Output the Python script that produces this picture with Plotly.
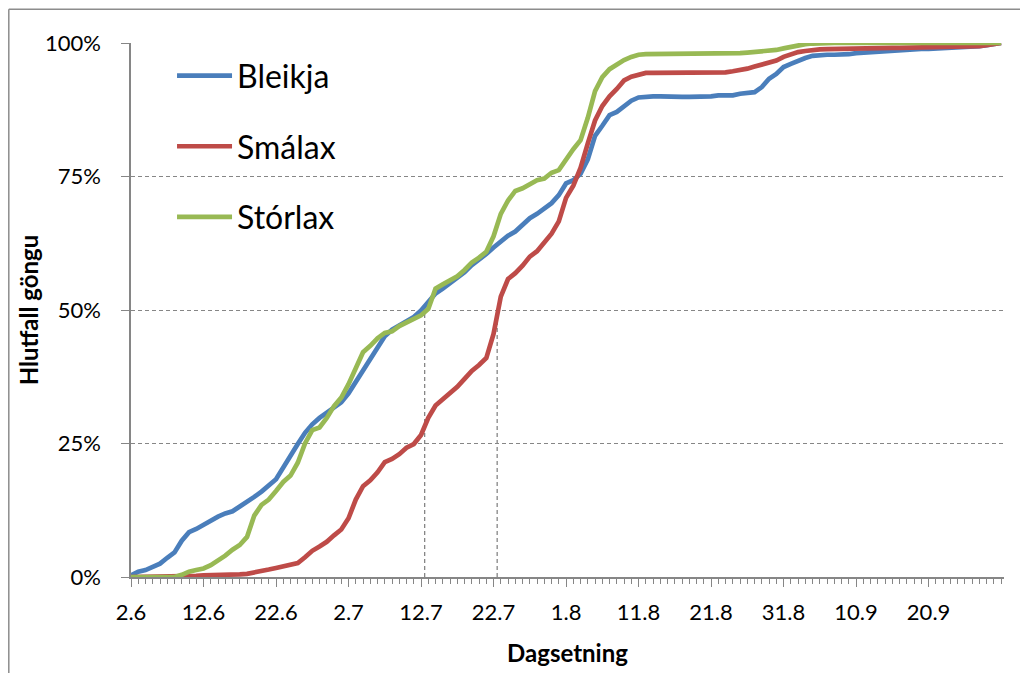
import plotly.graph_objects as go

# Day index from 2.6 (day 0) to 30.9 (day 120)
days = list(range(121))

tick_days = [0, 10, 20, 30, 40, 50, 60, 70, 80, 90, 100, 110]
tick_labels = ["2.6", "12.6", "22.6", "2.7", "12.7", "22.7", "1.8", "11.8",
               "21.8", "31.8", "10.9", "20.9"]

y_ticks = [0, 25, 50, 75, 100]
y_tick_labels = ["0%", "25%", "50%", "75%", "100%"]

bleikja = [0.3, 1.0, 1.3, 2.0, 2.5, 3.6, 4.6, 6.8, 8.4, 9.0,
           9.8, 10.6, 11.3, 11.9, 12.3, 13.2, 14.0, 15.0, 16.0, 17.1,
           18.3, 20.5, 22.9, 24.9, 27.0, 28.6, 29.8, 30.8, 31.7, 32.7,
           34.4, 36.6, 38.9, 40.9, 43.2, 45.1, 46.3, 47.1, 47.8, 48.7,
           49.9, 51.6, 53.1, 54.0, 55.0, 55.9, 57.1, 58.4, 59.4, 60.5,
           61.7, 62.8, 63.9, 64.7, 66.1, 67.2, 68.0, 69.0, 70.0, 71.5,
           73.7, 74.3, 75.5, 78.2, 82.6, 84.5, 86.5, 87.1, 88.2, 89.2,
           89.8, 90.0, 90.0, 90.0, 89.9, 89.9, 89.9, 89.9, 89.9, 89.9,
           90.0, 90.2, 90.2, 90.2, 90.5, 90.7, 90.8, 91.75, 93.3, 94.2,
           95.5, 96.1, 96.7, 97.2, 97.6, 97.8, 97.8, 97.8, 97.8, 97.9,
           98.1, 98.2, 98.3, 98.4, 98.6, 98.7, 98.8, 98.8, 98.85, 98.9,
           98.9, 98.95, 99.0, 99.0, 99.05, 99.1, 99.2, 99.4, 99.6, 99.8,
           100.0]

smalax = [0.0, 0.0, 0.0, 0.0, 0.0, 0.0, 0.0, 0.0, 0.1, 0.2,
          0.3, 0.3, 0.4, 0.4, 0.5, 0.5, 0.6, 0.8, 1.0, 1.4,
          1.7, 2.0, 2.2, 2.6, 3.7, 4.9, 5.7, 6.6, 7.8, 8.9,
          11.0, 14.5, 17.0, 18.1, 19.6, 21.5, 22.1, 23.0, 24.2, 24.9,
          26.6, 29.8, 32.1, 33.2, 34.4, 35.6, 37.1, 38.6, 39.7, 41.0,
          45.5, 52.5, 55.8, 56.9, 58.3, 60.0, 61.0, 62.5, 64.3, 66.6,
          71.0, 73.3, 76.6, 81.2, 85.5, 88.2, 90.0, 91.4, 93.0, 93.7,
          94.1, 94.4, 94.4, 94.4, 94.4, 94.4, 94.4, 94.4, 94.4, 94.4,
          94.4, 94.4, 94.5, 94.7, 94.9, 95.2, 95.6, 96.0, 96.4, 96.7,
          97.4, 97.9, 98.3, 98.5, 98.7, 98.8, 98.85, 98.9, 98.9, 98.95,
          99.0, 99.0, 99.05, 99.05, 99.1, 99.1, 99.1, 99.12, 99.14, 99.16,
          99.18, 99.2, 99.22, 99.24, 99.25, 99.25, 99.3, 99.4, 99.6, 99.8,
          100.0]

storlax = [0.0, 0.0, 0.0, 0.0, 0.0, 0.0, 0.0, 0.4, 1.0, 1.3,
           1.6, 2.2, 3.0, 4.0, 5.1, 6.0, 7.5, 11.5, 13.5, 14.5,
           16.1, 17.8, 19.0, 21.4, 25.0, 27.5, 28.0, 29.8, 32.0, 33.6,
           36.1, 39.2, 42.1, 43.3, 44.7, 45.7, 46.0, 47.0, 47.6, 48.3,
           49.0, 50.2, 54.0, 54.8, 55.5, 56.3, 57.5, 58.9, 59.8, 60.9,
           63.8, 68.0, 70.5, 72.3, 72.8, 73.6, 74.3, 74.6, 75.7, 76.2,
           78.3, 80.1, 81.8, 86.0, 91.0, 93.6, 95.1, 96.0, 96.8, 97.4,
           97.8, 97.9, 97.9, 97.9, 97.9, 97.9, 97.9, 97.9, 97.9, 97.9,
           97.9, 97.9, 97.9, 98.0, 98.1, 98.2, 98.3, 98.45, 98.6, 98.7,
           99.0, 99.3, 99.6, 99.8, 99.9, 100.0, 100.0, 100.0, 100.0, 100.0,
           100.0, 100.0, 100.0, 100.0, 100.0, 100.0, 100.0, 100.0, 100.0, 100.0,
           100.0, 100.0, 100.0, 100.0, 100.0, 100.0, 100.0, 100.0, 100.0, 100.0,
           100.0]

series_names = ["Bleikja", "Smálax", "Stórlax"]
series_values = [bleikja, smalax, storlax]
series_colors = ["#4A7EBB", "#BE4B48", "#98B954"]

# Reference (dashed) vertical lines at 12.7 and 22.7, up to 50 %
ref_days = [40.5, 50.5]
ref_top = 50

FONT = "Lato"
GRID = "#868686"

# figure is placed by the page at (8, 8)
FIG_W, FIG_H = 1020, 665
ML, MR, MT, MB = 123, 24, 35, 96
PW = FIG_W - ML - MR
PH = FIG_H - MT - MB


def px_x(fx):
    return (fx - ML) / PW


def px_y(fy):
    return (FIG_H - MB - fy) / PH


fig = go.Figure()
for i, (name, vals, col) in enumerate(zip(series_names, series_values, series_colors)):
    fig.add_trace(go.Scatter(
        x=days, y=vals, mode="lines", name=name,
        line=dict(color=col, width=4.7),
        legendgroup=str(i),
    ))

for d in ref_days:
    fig.add_shape(type="line", xref="x", yref="y", x0=d, x1=d, y0=0, y1=ref_top,
                  line=dict(color=GRID, width=1.3, dash="4px,3px"), layer="below")

# outer chart frame (runs off the picture at right and bottom)
fig.add_shape(type="line", xref="paper", yref="paper",
              x0=px_x(0.8), x1=px_x(FIG_W + 10),
              y0=px_y(1.2), y1=px_y(1.2),
              line=dict(color="#8C8C8C", width=1.5))
fig.add_shape(type="line", xref="paper", yref="paper",
              x0=px_x(0.8), x1=px_x(0.8),
              y0=px_y(1.2), y1=px_y(FIG_H + 10),
              line=dict(color="#8C8C8C", width=1.5))

fig.update_layout(
    width=FIG_W, height=FIG_H,
    margin=dict(l=ML, r=MR, t=MT, b=MB),
    paper_bgcolor="white", plot_bgcolor="white",
    font=dict(family=FONT, color="black", size=22),
    showlegend=True,
    legend=dict(
        x=0.047, y=0.99, xanchor="left", yanchor="top",
        font=dict(family=FONT, size=32, color="black"),
        bgcolor="rgba(0,0,0,0)",
        traceorder="grouped", tracegroupgap=26,
        itemwidth=55,
    ),
    xaxis=dict(
        range=[0, 120.4], showgrid=False, zeroline=False,
        tickmode="array", tickvals=tick_days, ticktext=tick_labels,
        ticks="outside", ticklen=8, tickwidth=1.3, tickcolor=GRID,
        minor=dict(dtick=1, tick0=0, ticks="outside", ticklen=5,
                   tickwidth=1.3, tickcolor=GRID, showgrid=False),
        showline=True, linecolor=GRID, linewidth=1.5,
        tickfont=dict(family=FONT, size=22),
        ticklabelstandoff=7,
        title=dict(text="<b>Dagsetning</b>", font=dict(family=FONT, size=24),
                   standoff=21),
        automargin=False,
    ),
    yaxis=dict(
        range=[0, 100], zeroline=False,
        tickmode="array", tickvals=y_ticks, ticktext=y_tick_labels,
        ticks="outside", ticklen=8, tickwidth=1.3, tickcolor=GRID,
        showgrid=True, gridcolor=GRID, gridwidth=1.3, griddash="4px,3px",
        showline=True, linecolor=GRID, linewidth=1.5,
        tickfont=dict(family=FONT, size=22),
        ticklabelstandoff=16,
        title=dict(text="<b>Hlutfall göngu</b>", font=dict(family=FONT, size=24),
                   standoff=0),
        automargin=False,
    ),
)

fig.write_html("out.html")
